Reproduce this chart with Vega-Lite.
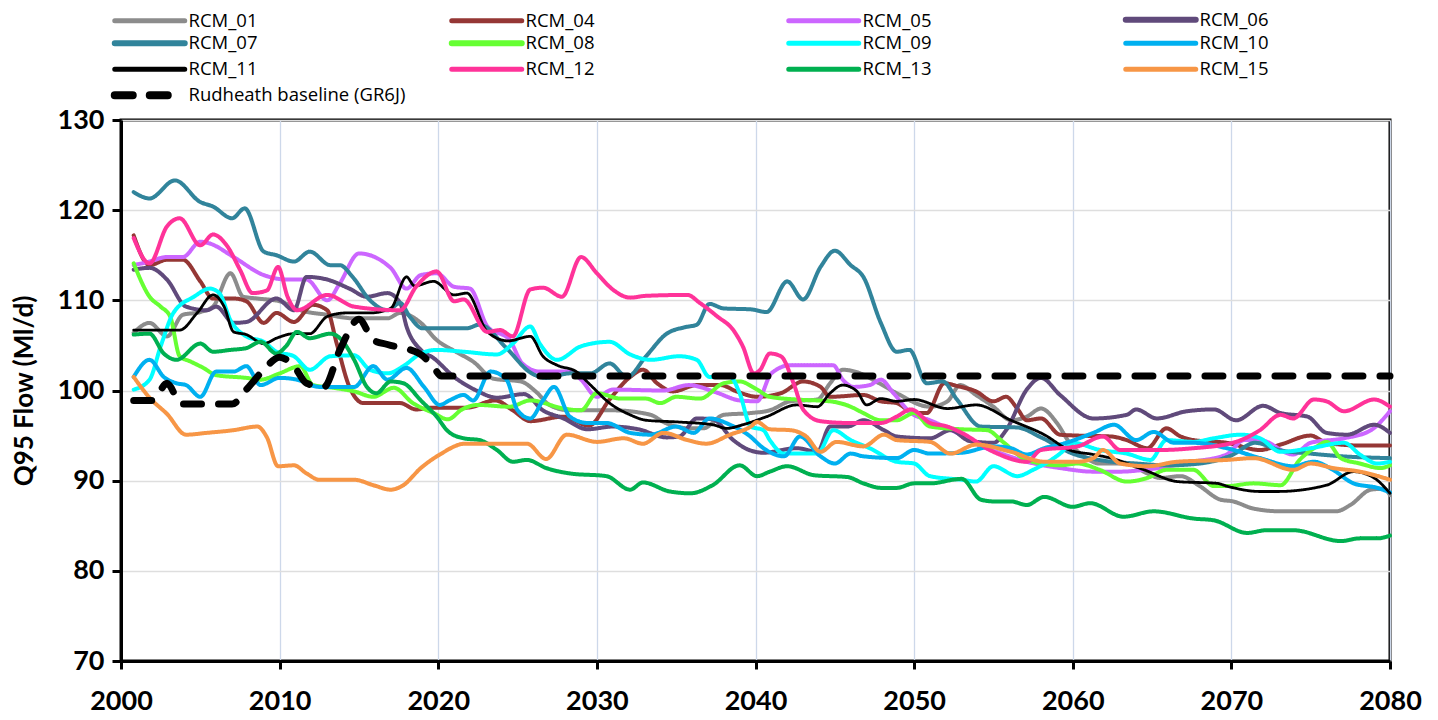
{
"$schema":"https://vega.github.io/schema/vega-lite/v6.json",
"autosize":{"type":"none"},
"width":1269,"height":541,
"padding":{"left":121,"top":120,"right":48,"bottom":59},
"background":"white",
"config":{
 "font":"Lato",
 "view":{"stroke":"black","strokeWidth":3},
 "legend":{"orient":"none","legendX":19.5,"legendY":-112,"direction":"horizontal","columns":4,"gridAlign":"all","symbolType":"stroke","symbolSize":4900,"symbolStrokeWidth":5,"labelFont":"Open Sans","labelFontSize":18.5,"labelColor":"black","labelOffset":29.5,"rowPadding":-7,"columnPadding":34,"padding":0,"labelLimit":400}
},
"data":{"values":[
{"s":"RCM_01","x":2000.8,"y":106.4},{"s":"RCM_01","x":2001.8,"y":107.5},{"s":"RCM_01","x":2002.9,"y":106.0},{"s":"RCM_01","x":2003.9,"y":108.4},{"s":"RCM_01","x":2005.0,"y":108.7},{"s":"RCM_01","x":2005.8,"y":109.3},{"s":"RCM_01","x":2006.9,"y":113.0},{"s":"RCM_01","x":2007.7,"y":110.4},{"s":"RCM_01","x":2008.6,"y":110.2},{"s":"RCM_01","x":2010.0,"y":109.9},{"s":"RCM_01","x":2011.3,"y":108.9},{"s":"RCM_01","x":2013.0,"y":108.4},{"s":"RCM_01","x":2014.7,"y":108.0},{"s":"RCM_01","x":2016.8,"y":108.0},{"s":"RCM_01","x":2017.6,"y":108.6},{"s":"RCM_01","x":2018.9,"y":107.5},{"s":"RCM_01","x":2019.9,"y":105.6},{"s":"RCM_01","x":2021.0,"y":104.4},{"s":"RCM_01","x":2022.2,"y":103.2},{"s":"RCM_01","x":2023.5,"y":101.3},{"s":"RCM_01","x":2025.2,"y":101.0},{"s":"RCM_01","x":2026.2,"y":99.8},{"s":"RCM_01","x":2027.0,"y":98.4},{"s":"RCM_01","x":2028.3,"y":97.8},{"s":"RCM_01","x":2031.0,"y":97.8},{"s":"RCM_01","x":2033.4,"y":97.3},{"s":"RCM_01","x":2034.2,"y":96.5},{"s":"RCM_01","x":2035.9,"y":95.8},{"s":"RCM_01","x":2036.7,"y":95.8},{"s":"RCM_01","x":2038.0,"y":97.3},{"s":"RCM_01","x":2039.7,"y":97.5},{"s":"RCM_01","x":2040.9,"y":97.8},{"s":"RCM_01","x":2042.2,"y":98.8},{"s":"RCM_01","x":2043.9,"y":99.0},{"s":"RCM_01","x":2044.7,"y":100.8},{"s":"RCM_01","x":2045.5,"y":102.3},{"s":"RCM_01","x":2046.6,"y":101.9},{"s":"RCM_01","x":2047.8,"y":100.8},{"s":"RCM_01","x":2048.9,"y":99.7},{"s":"RCM_01","x":2051.0,"y":98.2},{"s":"RCM_01","x":2052.1,"y":98.8},{"s":"RCM_01","x":2052.9,"y":100.6},{"s":"RCM_01","x":2053.9,"y":99.5},{"s":"RCM_01","x":2055.0,"y":98.2},{"s":"RCM_01","x":2056.1,"y":96.7},{"s":"RCM_01","x":2057.1,"y":97.1},{"s":"RCM_01","x":2058.0,"y":98.0},{"s":"RCM_01","x":2059.0,"y":96.4},{"s":"RCM_01","x":2059.8,"y":94.2},{"s":"RCM_01","x":2060.7,"y":92.7},{"s":"RCM_01","x":2061.7,"y":91.9},{"s":"RCM_01","x":2063.4,"y":91.9},{"s":"RCM_01","x":2064.7,"y":90.8},{"s":"RCM_01","x":2065.5,"y":90.3},{"s":"RCM_01","x":2066.8,"y":90.5},{"s":"RCM_01","x":2068.0,"y":89.4},{"s":"RCM_01","x":2069.3,"y":87.9},{"s":"RCM_01","x":2070.1,"y":87.7},{"s":"RCM_01","x":2071.4,"y":86.9},{"s":"RCM_01","x":2073.1,"y":86.6},{"s":"RCM_01","x":2076.6,"y":86.6},{"s":"RCM_01","x":2077.5,"y":87.3},{"s":"RCM_01","x":2078.8,"y":89.0},{"s":"RCM_01","x":2079.6,"y":89.1},{"s":"RCM_01","x":2080.0,"y":88.4},
{"s":"RCM_04","x":2000.8,"y":117.2},{"s":"RCM_04","x":2001.8,"y":113.9},{"s":"RCM_04","x":2002.9,"y":114.5},{"s":"RCM_04","x":2003.9,"y":114.5},{"s":"RCM_04","x":2005.0,"y":112.1},{"s":"RCM_04","x":2005.8,"y":110.2},{"s":"RCM_04","x":2007.1,"y":110.2},{"s":"RCM_04","x":2007.9,"y":109.9},{"s":"RCM_04","x":2009.0,"y":107.5},{"s":"RCM_04","x":2009.8,"y":108.6},{"s":"RCM_04","x":2010.9,"y":107.6},{"s":"RCM_04","x":2012.1,"y":109.5},{"s":"RCM_04","x":2013.0,"y":108.9},{"s":"RCM_04","x":2013.6,"y":105.2},{"s":"RCM_04","x":2014.4,"y":100.4},{"s":"RCM_04","x":2015.3,"y":98.6},{"s":"RCM_04","x":2017.6,"y":98.6},{"s":"RCM_04","x":2018.6,"y":97.9},{"s":"RCM_04","x":2019.7,"y":98.1},{"s":"RCM_04","x":2021.8,"y":98.1},{"s":"RCM_04","x":2023.6,"y":98.9},{"s":"RCM_04","x":2024.7,"y":97.8},{"s":"RCM_04","x":2025.8,"y":96.6},{"s":"RCM_04","x":2027.9,"y":97.1},{"s":"RCM_04","x":2029.5,"y":96.1},{"s":"RCM_04","x":2030.8,"y":99.0},{"s":"RCM_04","x":2032.1,"y":101.5},{"s":"RCM_04","x":2032.9,"y":102.3},{"s":"RCM_04","x":2033.8,"y":100.8},{"s":"RCM_04","x":2034.8,"y":99.9},{"s":"RCM_04","x":2036.3,"y":100.6},{"s":"RCM_04","x":2037.8,"y":100.6},{"s":"RCM_04","x":2038.8,"y":99.9},{"s":"RCM_04","x":2040.1,"y":99.3},{"s":"RCM_04","x":2041.6,"y":99.7},{"s":"RCM_04","x":2043.0,"y":101.0},{"s":"RCM_04","x":2044.1,"y":100.4},{"s":"RCM_04","x":2044.7,"y":99.3},{"s":"RCM_04","x":2046.8,"y":99.5},{"s":"RCM_04","x":2047.9,"y":98.8},{"s":"RCM_04","x":2048.9,"y":98.6},{"s":"RCM_04","x":2050.0,"y":97.5},{"s":"RCM_04","x":2050.8,"y":97.5},{"s":"RCM_04","x":2051.9,"y":100.8},{"s":"RCM_04","x":2052.7,"y":100.5},{"s":"RCM_04","x":2053.9,"y":99.9},{"s":"RCM_04","x":2055.0,"y":98.8},{"s":"RCM_04","x":2055.8,"y":99.3},{"s":"RCM_04","x":2056.5,"y":98.0},{"s":"RCM_04","x":2057.1,"y":96.7},{"s":"RCM_04","x":2058.0,"y":96.9},{"s":"RCM_04","x":2059.2,"y":95.1},{"s":"RCM_04","x":2060.3,"y":95.0},{"s":"RCM_04","x":2062.4,"y":94.9},{"s":"RCM_04","x":2063.4,"y":94.5},{"s":"RCM_04","x":2064.7,"y":93.6},{"s":"RCM_04","x":2065.9,"y":95.8},{"s":"RCM_04","x":2066.8,"y":94.9},{"s":"RCM_04","x":2067.6,"y":94.5},{"s":"RCM_04","x":2069.7,"y":94.2},{"s":"RCM_04","x":2071.8,"y":93.4},{"s":"RCM_04","x":2073.1,"y":94.0},{"s":"RCM_04","x":2075.0,"y":95.0},{"s":"RCM_04","x":2076.0,"y":94.2},{"s":"RCM_04","x":2078.1,"y":93.9},{"s":"RCM_04","x":2080.0,"y":93.9},
{"s":"RCM_05","x":2000.8,"y":113.9},{"s":"RCM_05","x":2001.8,"y":114.3},{"s":"RCM_05","x":2002.9,"y":114.8},{"s":"RCM_05","x":2003.9,"y":114.8},{"s":"RCM_05","x":2005.0,"y":116.5},{"s":"RCM_05","x":2005.6,"y":116.3},{"s":"RCM_05","x":2007.1,"y":114.8},{"s":"RCM_05","x":2009.0,"y":112.8},{"s":"RCM_05","x":2010.5,"y":112.3},{"s":"RCM_05","x":2011.7,"y":112.3},{"s":"RCM_05","x":2013.0,"y":110.0},{"s":"RCM_05","x":2013.8,"y":111.9},{"s":"RCM_05","x":2015.0,"y":115.2},{"s":"RCM_05","x":2017.0,"y":113.6},{"s":"RCM_05","x":2018.0,"y":111.3},{"s":"RCM_05","x":2018.9,"y":112.8},{"s":"RCM_05","x":2019.9,"y":113.0},{"s":"RCM_05","x":2021.0,"y":111.5},{"s":"RCM_05","x":2022.0,"y":111.3},{"s":"RCM_05","x":2023.1,"y":107.1},{"s":"RCM_05","x":2024.5,"y":105.6},{"s":"RCM_05","x":2025.3,"y":103.0},{"s":"RCM_05","x":2026.4,"y":102.1},{"s":"RCM_05","x":2028.3,"y":102.1},{"s":"RCM_05","x":2029.0,"y":101.2},{"s":"RCM_05","x":2030.0,"y":99.3},{"s":"RCM_05","x":2031.0,"y":100.1},{"s":"RCM_05","x":2034.2,"y":100.0},{"s":"RCM_05","x":2035.8,"y":100.6},{"s":"RCM_05","x":2037.5,"y":99.8},{"s":"RCM_05","x":2039.0,"y":98.9},{"s":"RCM_05","x":2040.1,"y":98.8},{"s":"RCM_05","x":2041.0,"y":101.9},{"s":"RCM_05","x":2042.2,"y":102.8},{"s":"RCM_05","x":2044.9,"y":102.8},{"s":"RCM_05","x":2045.5,"y":101.2},{"s":"RCM_05","x":2046.2,"y":100.4},{"s":"RCM_05","x":2047.2,"y":100.6},{"s":"RCM_05","x":2047.9,"y":101.2},{"s":"RCM_05","x":2048.7,"y":99.7},{"s":"RCM_05","x":2049.8,"y":97.5},{"s":"RCM_05","x":2051.0,"y":96.7},{"s":"RCM_05","x":2052.7,"y":95.3},{"s":"RCM_05","x":2054.0,"y":94.0},{"s":"RCM_05","x":2055.5,"y":93.0},{"s":"RCM_05","x":2057.1,"y":92.1},{"s":"RCM_05","x":2059.2,"y":91.4},{"s":"RCM_05","x":2061.3,"y":91.0},{"s":"RCM_05","x":2063.0,"y":91.0},{"s":"RCM_05","x":2064.5,"y":91.2},{"s":"RCM_05","x":2067.6,"y":92.1},{"s":"RCM_05","x":2069.7,"y":92.9},{"s":"RCM_05","x":2070.8,"y":94.5},{"s":"RCM_05","x":2071.8,"y":94.5},{"s":"RCM_05","x":2073.9,"y":92.9},{"s":"RCM_05","x":2075.0,"y":94.2},{"s":"RCM_05","x":2077.1,"y":94.7},{"s":"RCM_05","x":2078.8,"y":95.6},{"s":"RCM_05","x":2080.0,"y":97.7},
{"s":"RCM_06","x":2000.8,"y":113.4},{"s":"RCM_06","x":2001.8,"y":113.6},{"s":"RCM_06","x":2002.9,"y":112.3},{"s":"RCM_06","x":2004.1,"y":109.3},{"s":"RCM_06","x":2005.4,"y":108.9},{"s":"RCM_06","x":2006.0,"y":109.3},{"s":"RCM_06","x":2007.1,"y":107.5},{"s":"RCM_06","x":2007.9,"y":107.6},{"s":"RCM_06","x":2009.8,"y":110.2},{"s":"RCM_06","x":2010.9,"y":108.9},{"s":"RCM_06","x":2011.7,"y":112.6},{"s":"RCM_06","x":2013.0,"y":112.3},{"s":"RCM_06","x":2014.4,"y":111.3},{"s":"RCM_06","x":2015.5,"y":110.4},{"s":"RCM_06","x":2016.8,"y":110.8},{"s":"RCM_06","x":2017.6,"y":109.7},{"s":"RCM_06","x":2018.0,"y":107.1},{"s":"RCM_06","x":2018.9,"y":104.5},{"s":"RCM_06","x":2019.7,"y":103.6},{"s":"RCM_06","x":2021.0,"y":101.5},{"s":"RCM_06","x":2022.4,"y":100.0},{"s":"RCM_06","x":2023.7,"y":99.2},{"s":"RCM_06","x":2025.4,"y":99.6},{"s":"RCM_06","x":2026.6,"y":97.8},{"s":"RCM_06","x":2027.9,"y":96.9},{"s":"RCM_06","x":2029.4,"y":95.7},{"s":"RCM_06","x":2031.0,"y":96.0},{"s":"RCM_06","x":2032.6,"y":95.7},{"s":"RCM_06","x":2034.4,"y":94.8},{"s":"RCM_06","x":2035.2,"y":94.9},{"s":"RCM_06","x":2036.3,"y":96.9},{"s":"RCM_06","x":2037.3,"y":96.8},{"s":"RCM_06","x":2038.6,"y":94.5},{"s":"RCM_06","x":2039.6,"y":93.4},{"s":"RCM_06","x":2040.5,"y":93.1},{"s":"RCM_06","x":2042.6,"y":93.6},{"s":"RCM_06","x":2043.9,"y":93.2},{"s":"RCM_06","x":2044.7,"y":96.0},{"s":"RCM_06","x":2045.8,"y":96.0},{"s":"RCM_06","x":2046.8,"y":96.7},{"s":"RCM_06","x":2048.1,"y":95.6},{"s":"RCM_06","x":2048.9,"y":94.9},{"s":"RCM_06","x":2051.0,"y":94.7},{"s":"RCM_06","x":2052.3,"y":95.6},{"s":"RCM_06","x":2053.5,"y":94.4},{"s":"RCM_06","x":2055.0,"y":94.2},{"s":"RCM_06","x":2055.8,"y":95.6},{"s":"RCM_06","x":2057.1,"y":100.1},{"s":"RCM_06","x":2058.0,"y":101.4},{"s":"RCM_06","x":2059.2,"y":99.5},{"s":"RCM_06","x":2061.3,"y":96.9},{"s":"RCM_06","x":2063.4,"y":97.3},{"s":"RCM_06","x":2064.0,"y":97.9},{"s":"RCM_06","x":2065.3,"y":96.9},{"s":"RCM_06","x":2067.2,"y":97.7},{"s":"RCM_06","x":2068.9,"y":97.9},{"s":"RCM_06","x":2070.3,"y":96.7},{"s":"RCM_06","x":2072.0,"y":98.3},{"s":"RCM_06","x":2073.1,"y":97.5},{"s":"RCM_06","x":2074.8,"y":97.1},{"s":"RCM_06","x":2076.0,"y":95.3},{"s":"RCM_06","x":2077.3,"y":95.1},{"s":"RCM_06","x":2079.0,"y":96.2},{"s":"RCM_06","x":2080.0,"y":95.3},
{"s":"RCM_07","x":2000.8,"y":122.0},{"s":"RCM_07","x":2001.8,"y":121.3},{"s":"RCM_07","x":2003.4,"y":123.3},{"s":"RCM_07","x":2005.0,"y":120.9},{"s":"RCM_07","x":2005.8,"y":120.4},{"s":"RCM_07","x":2007.0,"y":119.1},{"s":"RCM_07","x":2007.8,"y":120.2},{"s":"RCM_07","x":2009.0,"y":115.4},{"s":"RCM_07","x":2009.8,"y":115.0},{"s":"RCM_07","x":2010.9,"y":114.3},{"s":"RCM_07","x":2011.9,"y":115.4},{"s":"RCM_07","x":2013.2,"y":113.9},{"s":"RCM_07","x":2013.8,"y":113.9},{"s":"RCM_07","x":2014.6,"y":112.6},{"s":"RCM_07","x":2015.7,"y":110.0},{"s":"RCM_07","x":2016.8,"y":108.9},{"s":"RCM_07","x":2017.6,"y":109.7},{"s":"RCM_07","x":2018.2,"y":108.2},{"s":"RCM_07","x":2019.0,"y":106.9},{"s":"RCM_07","x":2021.8,"y":106.9},{"s":"RCM_07","x":2022.6,"y":107.3},{"s":"RCM_07","x":2024.3,"y":104.7},{"s":"RCM_07","x":2025.8,"y":102.0},{"s":"RCM_07","x":2026.8,"y":101.4},{"s":"RCM_07","x":2028.3,"y":101.9},{"s":"RCM_07","x":2029.6,"y":101.9},{"s":"RCM_07","x":2030.8,"y":103.0},{"s":"RCM_07","x":2031.9,"y":101.5},{"s":"RCM_07","x":2033.1,"y":103.8},{"s":"RCM_07","x":2034.4,"y":106.3},{"s":"RCM_07","x":2035.5,"y":107.0},{"s":"RCM_07","x":2036.3,"y":107.3},{"s":"RCM_07","x":2037.1,"y":109.6},{"s":"RCM_07","x":2038.0,"y":109.1},{"s":"RCM_07","x":2039.7,"y":109.0},{"s":"RCM_07","x":2040.7,"y":108.7},{"s":"RCM_07","x":2042.0,"y":112.1},{"s":"RCM_07","x":2043.0,"y":110.1},{"s":"RCM_07","x":2044.1,"y":113.7},{"s":"RCM_07","x":2045.0,"y":115.5},{"s":"RCM_07","x":2046.0,"y":113.9},{"s":"RCM_07","x":2046.8,"y":112.6},{"s":"RCM_07","x":2047.9,"y":107.5},{"s":"RCM_07","x":2048.9,"y":104.3},{"s":"RCM_07","x":2049.7,"y":104.5},{"s":"RCM_07","x":2050.8,"y":100.8},{"s":"RCM_07","x":2051.8,"y":101.0},{"s":"RCM_07","x":2052.7,"y":99.0},{"s":"RCM_07","x":2054.2,"y":96.0},{"s":"RCM_07","x":2056.5,"y":95.9},{"s":"RCM_07","x":2058.0,"y":94.8},{"s":"RCM_07","x":2060.0,"y":93.0},{"s":"RCM_07","x":2062.0,"y":92.2},{"s":"RCM_07","x":2064.0,"y":91.9},{"s":"RCM_07","x":2066.0,"y":91.7},{"s":"RCM_07","x":2068.0,"y":91.9},{"s":"RCM_07","x":2070.0,"y":92.8},{"s":"RCM_07","x":2071.5,"y":94.2},{"s":"RCM_07","x":2073.0,"y":93.4},{"s":"RCM_07","x":2075.0,"y":93.0},{"s":"RCM_07","x":2077.0,"y":92.7},{"s":"RCM_07","x":2080.0,"y":92.5},
{"s":"RCM_08","x":2000.8,"y":114.1},{"s":"RCM_08","x":2001.8,"y":110.4},{"s":"RCM_08","x":2002.5,"y":109.3},{"s":"RCM_08","x":2003.1,"y":108.2},{"s":"RCM_08","x":2003.7,"y":103.8},{"s":"RCM_08","x":2004.4,"y":103.2},{"s":"RCM_08","x":2005.2,"y":102.5},{"s":"RCM_08","x":2006.0,"y":101.7},{"s":"RCM_08","x":2007.9,"y":101.4},{"s":"RCM_08","x":2008.8,"y":101.2},{"s":"RCM_08","x":2010.0,"y":101.9},{"s":"RCM_08","x":2011.3,"y":102.7},{"s":"RCM_08","x":2012.1,"y":100.6},{"s":"RCM_08","x":2013.4,"y":100.3},{"s":"RCM_08","x":2014.7,"y":99.9},{"s":"RCM_08","x":2015.9,"y":99.3},{"s":"RCM_08","x":2017.2,"y":100.3},{"s":"RCM_08","x":2018.4,"y":98.6},{"s":"RCM_08","x":2019.7,"y":97.5},{"s":"RCM_08","x":2020.6,"y":96.8},{"s":"RCM_08","x":2021.5,"y":97.9},{"s":"RCM_08","x":2022.5,"y":98.4},{"s":"RCM_08","x":2024.5,"y":98.2},{"s":"RCM_08","x":2025.8,"y":98.9},{"s":"RCM_08","x":2027.9,"y":98.0},{"s":"RCM_08","x":2029.0,"y":97.8},{"s":"RCM_08","x":2030.0,"y":99.7},{"s":"RCM_08","x":2031.5,"y":99.1},{"s":"RCM_08","x":2033.1,"y":99.1},{"s":"RCM_08","x":2034.0,"y":98.6},{"s":"RCM_08","x":2035.0,"y":99.3},{"s":"RCM_08","x":2036.5,"y":99.1},{"s":"RCM_08","x":2038.0,"y":100.8},{"s":"RCM_08","x":2039.0,"y":101.0},{"s":"RCM_08","x":2040.1,"y":100.1},{"s":"RCM_08","x":2040.9,"y":99.3},{"s":"RCM_08","x":2042.6,"y":99.0},{"s":"RCM_08","x":2044.7,"y":98.8},{"s":"RCM_08","x":2046.0,"y":98.2},{"s":"RCM_08","x":2046.8,"y":97.5},{"s":"RCM_08","x":2047.9,"y":96.7},{"s":"RCM_08","x":2048.9,"y":96.7},{"s":"RCM_08","x":2050.0,"y":97.5},{"s":"RCM_08","x":2051.0,"y":96.0},{"s":"RCM_08","x":2053.0,"y":95.7},{"s":"RCM_08","x":2054.6,"y":95.6},{"s":"RCM_08","x":2055.6,"y":94.3},{"s":"RCM_08","x":2057.1,"y":92.3},{"s":"RCM_08","x":2059.2,"y":91.7},{"s":"RCM_08","x":2060.3,"y":91.9},{"s":"RCM_08","x":2061.7,"y":91.2},{"s":"RCM_08","x":2063.4,"y":89.9},{"s":"RCM_08","x":2064.7,"y":90.3},{"s":"RCM_08","x":2065.9,"y":91.2},{"s":"RCM_08","x":2067.6,"y":91.2},{"s":"RCM_08","x":2068.9,"y":89.4},{"s":"RCM_08","x":2069.7,"y":89.4},{"s":"RCM_08","x":2071.4,"y":89.7},{"s":"RCM_08","x":2073.1,"y":89.5},{"s":"RCM_08","x":2074.3,"y":92.3},{"s":"RCM_08","x":2075.4,"y":93.8},{"s":"RCM_08","x":2076.0,"y":94.3},{"s":"RCM_08","x":2076.9,"y":92.5},{"s":"RCM_08","x":2078.1,"y":91.9},{"s":"RCM_08","x":2079.4,"y":91.4},{"s":"RCM_08","x":2080.0,"y":91.7},
{"s":"RCM_09","x":2000.8,"y":100.1},{"s":"RCM_09","x":2001.8,"y":101.2},{"s":"RCM_09","x":2002.5,"y":104.9},{"s":"RCM_09","x":2003.3,"y":108.6},{"s":"RCM_09","x":2004.6,"y":110.4},{"s":"RCM_09","x":2005.6,"y":111.3},{"s":"RCM_09","x":2006.2,"y":110.8},{"s":"RCM_09","x":2006.9,"y":107.8},{"s":"RCM_09","x":2007.9,"y":106.0},{"s":"RCM_09","x":2009.0,"y":105.4},{"s":"RCM_09","x":2009.8,"y":104.3},{"s":"RCM_09","x":2010.9,"y":103.8},{"s":"RCM_09","x":2011.9,"y":102.3},{"s":"RCM_09","x":2013.2,"y":103.8},{"s":"RCM_09","x":2014.7,"y":103.9},{"s":"RCM_09","x":2015.7,"y":102.3},{"s":"RCM_09","x":2016.8,"y":101.9},{"s":"RCM_09","x":2017.8,"y":102.7},{"s":"RCM_09","x":2018.9,"y":104.1},{"s":"RCM_09","x":2019.9,"y":104.5},{"s":"RCM_09","x":2021.6,"y":104.3},{"s":"RCM_09","x":2023.7,"y":104.0},{"s":"RCM_09","x":2024.7,"y":105.2},{"s":"RCM_09","x":2025.8,"y":107.1},{"s":"RCM_09","x":2026.4,"y":105.2},{"s":"RCM_09","x":2027.5,"y":103.4},{"s":"RCM_09","x":2029.0,"y":104.9},{"s":"RCM_09","x":2030.8,"y":105.4},{"s":"RCM_09","x":2032.1,"y":104.0},{"s":"RCM_09","x":2033.4,"y":103.4},{"s":"RCM_09","x":2035.2,"y":103.8},{"s":"RCM_09","x":2036.3,"y":103.4},{"s":"RCM_09","x":2037.1,"y":101.5},{"s":"RCM_09","x":2038.4,"y":101.5},{"s":"RCM_09","x":2039.0,"y":99.7},{"s":"RCM_09","x":2039.7,"y":96.0},{"s":"RCM_09","x":2040.5,"y":95.6},{"s":"RCM_09","x":2040.9,"y":94.5},{"s":"RCM_09","x":2041.8,"y":93.0},{"s":"RCM_09","x":2043.9,"y":93.0},{"s":"RCM_09","x":2044.9,"y":95.6},{"s":"RCM_09","x":2046.0,"y":94.5},{"s":"RCM_09","x":2047.2,"y":93.6},{"s":"RCM_09","x":2048.9,"y":92.1},{"s":"RCM_09","x":2050.0,"y":91.9},{"s":"RCM_09","x":2051.0,"y":90.5},{"s":"RCM_09","x":2053.0,"y":90.1},{"s":"RCM_09","x":2053.9,"y":89.9},{"s":"RCM_09","x":2055.0,"y":91.6},{"s":"RCM_09","x":2056.5,"y":90.5},{"s":"RCM_09","x":2057.5,"y":91.2},{"s":"RCM_09","x":2059.2,"y":93.0},{"s":"RCM_09","x":2060.0,"y":94.2},{"s":"RCM_09","x":2061.7,"y":93.4},{"s":"RCM_09","x":2063.4,"y":93.0},{"s":"RCM_09","x":2064.9,"y":92.3},{"s":"RCM_09","x":2065.9,"y":94.5},{"s":"RCM_09","x":2067.6,"y":94.3},{"s":"RCM_09","x":2068.9,"y":94.7},{"s":"RCM_09","x":2070.6,"y":95.1},{"s":"RCM_09","x":2071.8,"y":94.7},{"s":"RCM_09","x":2073.1,"y":93.2},{"s":"RCM_09","x":2075.0,"y":93.6},{"s":"RCM_09","x":2077.1,"y":94.2},{"s":"RCM_09","x":2078.1,"y":92.9},{"s":"RCM_09","x":2079.2,"y":91.9},{"s":"RCM_09","x":2080.0,"y":92.1},
{"s":"RCM_10","x":2000.8,"y":101.5},{"s":"RCM_10","x":2001.8,"y":103.4},{"s":"RCM_10","x":2002.7,"y":101.5},{"s":"RCM_10","x":2003.5,"y":100.8},{"s":"RCM_10","x":2004.1,"y":100.6},{"s":"RCM_10","x":2005.0,"y":99.3},{"s":"RCM_10","x":2006.0,"y":102.1},{"s":"RCM_10","x":2007.1,"y":102.1},{"s":"RCM_10","x":2007.9,"y":102.7},{"s":"RCM_10","x":2008.8,"y":100.6},{"s":"RCM_10","x":2010.0,"y":101.4},{"s":"RCM_10","x":2011.1,"y":101.2},{"s":"RCM_10","x":2012.5,"y":100.4},{"s":"RCM_10","x":2014.7,"y":100.4},{"s":"RCM_10","x":2015.9,"y":102.7},{"s":"RCM_10","x":2016.8,"y":101.2},{"s":"RCM_10","x":2018.0,"y":102.5},{"s":"RCM_10","x":2019.1,"y":100.4},{"s":"RCM_10","x":2020.1,"y":98.4},{"s":"RCM_10","x":2020.7,"y":98.9},{"s":"RCM_10","x":2021.6,"y":99.5},{"s":"RCM_10","x":2022.2,"y":98.9},{"s":"RCM_10","x":2023.3,"y":102.1},{"s":"RCM_10","x":2024.3,"y":101.2},{"s":"RCM_10","x":2025.0,"y":97.8},{"s":"RCM_10","x":2025.8,"y":96.9},{"s":"RCM_10","x":2026.6,"y":98.9},{"s":"RCM_10","x":2027.3,"y":100.4},{"s":"RCM_10","x":2028.3,"y":97.1},{"s":"RCM_10","x":2029.4,"y":96.4},{"s":"RCM_10","x":2030.6,"y":96.4},{"s":"RCM_10","x":2032.1,"y":95.3},{"s":"RCM_10","x":2033.4,"y":95.1},{"s":"RCM_10","x":2035.0,"y":96.0},{"s":"RCM_10","x":2036.1,"y":95.3},{"s":"RCM_10","x":2037.1,"y":96.9},{"s":"RCM_10","x":2038.4,"y":96.2},{"s":"RCM_10","x":2039.6,"y":95.0},{"s":"RCM_10","x":2040.5,"y":93.6},{"s":"RCM_10","x":2041.8,"y":92.7},{"s":"RCM_10","x":2042.8,"y":94.9},{"s":"RCM_10","x":2044.1,"y":92.7},{"s":"RCM_10","x":2045.0,"y":91.9},{"s":"RCM_10","x":2046.0,"y":93.0},{"s":"RCM_10","x":2046.8,"y":92.7},{"s":"RCM_10","x":2048.9,"y":92.5},{"s":"RCM_10","x":2050.0,"y":93.4},{"s":"RCM_10","x":2051.0,"y":93.0},{"s":"RCM_10","x":2053.0,"y":93.1},{"s":"RCM_10","x":2055.0,"y":93.8},{"s":"RCM_10","x":2056.1,"y":93.6},{"s":"RCM_10","x":2057.1,"y":92.9},{"s":"RCM_10","x":2058.2,"y":93.6},{"s":"RCM_10","x":2059.2,"y":94.0},{"s":"RCM_10","x":2061.3,"y":95.3},{"s":"RCM_10","x":2062.6,"y":96.2},{"s":"RCM_10","x":2064.0,"y":94.5},{"s":"RCM_10","x":2065.1,"y":95.4},{"s":"RCM_10","x":2066.4,"y":94.2},{"s":"RCM_10","x":2067.6,"y":94.2},{"s":"RCM_10","x":2069.7,"y":93.6},{"s":"RCM_10","x":2071.8,"y":92.5},{"s":"RCM_10","x":2073.9,"y":91.6},{"s":"RCM_10","x":2075.2,"y":92.1},{"s":"RCM_10","x":2076.4,"y":91.2},{"s":"RCM_10","x":2077.7,"y":89.7},{"s":"RCM_10","x":2079.2,"y":89.2},{"s":"RCM_10","x":2080.0,"y":88.7},
{"s":"RCM_11","x":2000.8,"y":106.7},{"s":"RCM_11","x":2003.7,"y":106.7},{"s":"RCM_11","x":2004.8,"y":108.6},{"s":"RCM_11","x":2005.8,"y":110.6},{"s":"RCM_11","x":2006.5,"y":109.3},{"s":"RCM_11","x":2007.1,"y":106.5},{"s":"RCM_11","x":2007.9,"y":106.2},{"s":"RCM_11","x":2009.0,"y":105.2},{"s":"RCM_11","x":2009.8,"y":105.8},{"s":"RCM_11","x":2010.9,"y":106.3},{"s":"RCM_11","x":2011.9,"y":106.3},{"s":"RCM_11","x":2013.0,"y":108.2},{"s":"RCM_11","x":2014.2,"y":108.6},{"s":"RCM_11","x":2015.7,"y":108.6},{"s":"RCM_11","x":2017.0,"y":109.1},{"s":"RCM_11","x":2018.0,"y":112.6},{"s":"RCM_11","x":2018.5,"y":111.6},{"s":"RCM_11","x":2019.7,"y":112.1},{"s":"RCM_11","x":2021.0,"y":110.6},{"s":"RCM_11","x":2021.8,"y":110.8},{"s":"RCM_11","x":2023.1,"y":106.5},{"s":"RCM_11","x":2024.4,"y":105.5},{"s":"RCM_11","x":2025.8,"y":106.0},{"s":"RCM_11","x":2026.6,"y":103.8},{"s":"RCM_11","x":2027.5,"y":102.8},{"s":"RCM_11","x":2028.7,"y":102.1},{"s":"RCM_11","x":2029.6,"y":100.6},{"s":"RCM_11","x":2030.8,"y":98.6},{"s":"RCM_11","x":2032.1,"y":97.3},{"s":"RCM_11","x":2033.1,"y":96.7},{"s":"RCM_11","x":2035.2,"y":96.5},{"s":"RCM_11","x":2037.3,"y":96.2},{"s":"RCM_11","x":2038.2,"y":95.8},{"s":"RCM_11","x":2039.2,"y":96.2},{"s":"RCM_11","x":2040.7,"y":97.1},{"s":"RCM_11","x":2042.6,"y":98.4},{"s":"RCM_11","x":2043.9,"y":98.2},{"s":"RCM_11","x":2044.7,"y":99.7},{"s":"RCM_11","x":2045.5,"y":100.6},{"s":"RCM_11","x":2046.4,"y":99.9},{"s":"RCM_11","x":2047.0,"y":98.4},{"s":"RCM_11","x":2047.9,"y":99.1},{"s":"RCM_11","x":2048.9,"y":98.8},{"s":"RCM_11","x":2050.0,"y":99.0},{"s":"RCM_11","x":2052.1,"y":98.0},{"s":"RCM_11","x":2053.9,"y":98.4},{"s":"RCM_11","x":2056.1,"y":96.7},{"s":"RCM_11","x":2058.2,"y":95.1},{"s":"RCM_11","x":2059.8,"y":93.4},{"s":"RCM_11","x":2061.3,"y":92.9},{"s":"RCM_11","x":2062.4,"y":92.5},{"s":"RCM_11","x":2064.5,"y":91.2},{"s":"RCM_11","x":2066.6,"y":89.9},{"s":"RCM_11","x":2069.1,"y":89.7},{"s":"RCM_11","x":2069.7,"y":89.4},{"s":"RCM_11","x":2071.8,"y":88.8},{"s":"RCM_11","x":2072.9,"y":88.8},{"s":"RCM_11","x":2076.0,"y":89.5},{"s":"RCM_11","x":2077.7,"y":91.0},{"s":"RCM_11","x":2079.0,"y":90.3},{"s":"RCM_11","x":2080.0,"y":88.6},
{"s":"RCM_12","x":2000.8,"y":116.9},{"s":"RCM_12","x":2001.8,"y":114.1},{"s":"RCM_12","x":2002.9,"y":118.2},{"s":"RCM_12","x":2003.7,"y":119.1},{"s":"RCM_12","x":2005.0,"y":116.1},{"s":"RCM_12","x":2005.8,"y":117.3},{"s":"RCM_12","x":2006.7,"y":116.0},{"s":"RCM_12","x":2007.5,"y":113.4},{"s":"RCM_12","x":2008.3,"y":110.8},{"s":"RCM_12","x":2009.2,"y":111.1},{"s":"RCM_12","x":2009.9,"y":113.7},{"s":"RCM_12","x":2010.5,"y":110.4},{"s":"RCM_12","x":2011.1,"y":108.9},{"s":"RCM_12","x":2013.0,"y":110.6},{"s":"RCM_12","x":2014.7,"y":109.3},{"s":"RCM_12","x":2017.6,"y":108.9},{"s":"RCM_12","x":2018.6,"y":111.5},{"s":"RCM_12","x":2019.9,"y":113.2},{"s":"RCM_12","x":2021.0,"y":109.9},{"s":"RCM_12","x":2021.6,"y":110.1},{"s":"RCM_12","x":2023.1,"y":106.5},{"s":"RCM_12","x":2023.9,"y":106.7},{"s":"RCM_12","x":2024.7,"y":106.0},{"s":"RCM_12","x":2025.8,"y":111.2},{"s":"RCM_12","x":2026.6,"y":111.4},{"s":"RCM_12","x":2027.8,"y":110.4},{"s":"RCM_12","x":2029.0,"y":114.8},{"s":"RCM_12","x":2030.0,"y":113.0},{"s":"RCM_12","x":2031.0,"y":111.2},{"s":"RCM_12","x":2032.1,"y":110.3},{"s":"RCM_12","x":2033.1,"y":110.5},{"s":"RCM_12","x":2035.7,"y":110.6},{"s":"RCM_12","x":2036.5,"y":109.7},{"s":"RCM_12","x":2037.6,"y":108.2},{"s":"RCM_12","x":2038.6,"y":106.7},{"s":"RCM_12","x":2039.2,"y":104.9},{"s":"RCM_12","x":2039.9,"y":101.9},{"s":"RCM_12","x":2040.3,"y":102.3},{"s":"RCM_12","x":2040.9,"y":104.1},{"s":"RCM_12","x":2041.6,"y":103.8},{"s":"RCM_12","x":2042.4,"y":100.8},{"s":"RCM_12","x":2043.0,"y":97.9},{"s":"RCM_12","x":2044.1,"y":96.6},{"s":"RCM_12","x":2045.8,"y":96.4},{"s":"RCM_12","x":2047.9,"y":96.4},{"s":"RCM_12","x":2048.9,"y":97.1},{"s":"RCM_12","x":2049.8,"y":97.9},{"s":"RCM_12","x":2051.0,"y":96.4},{"s":"RCM_12","x":2052.1,"y":96.0},{"s":"RCM_12","x":2053.0,"y":95.3},{"s":"RCM_12","x":2055.0,"y":93.2},{"s":"RCM_12","x":2057.1,"y":92.1},{"s":"RCM_12","x":2058.0,"y":93.4},{"s":"RCM_12","x":2060.3,"y":93.8},{"s":"RCM_12","x":2061.9,"y":94.9},{"s":"RCM_12","x":2063.0,"y":93.4},{"s":"RCM_12","x":2065.5,"y":93.4},{"s":"RCM_12","x":2067.6,"y":93.6},{"s":"RCM_12","x":2070.1,"y":94.2},{"s":"RCM_12","x":2071.8,"y":95.6},{"s":"RCM_12","x":2073.1,"y":97.3},{"s":"RCM_12","x":2073.9,"y":96.9},{"s":"RCM_12","x":2075.2,"y":99.0},{"s":"RCM_12","x":2076.0,"y":98.8},{"s":"RCM_12","x":2077.1,"y":97.7},{"s":"RCM_12","x":2079.0,"y":99.0},{"s":"RCM_12","x":2080.0,"y":98.2},
{"s":"RCM_13","x":2000.8,"y":106.2},{"s":"RCM_13","x":2001.8,"y":106.3},{"s":"RCM_13","x":2002.7,"y":104.1},{"s":"RCM_13","x":2003.5,"y":103.4},{"s":"RCM_13","x":2005.0,"y":105.2},{"s":"RCM_13","x":2005.8,"y":104.3},{"s":"RCM_13","x":2006.9,"y":104.5},{"s":"RCM_13","x":2007.9,"y":104.7},{"s":"RCM_13","x":2008.8,"y":105.4},{"s":"RCM_13","x":2009.8,"y":104.1},{"s":"RCM_13","x":2010.4,"y":104.9},{"s":"RCM_13","x":2011.1,"y":106.5},{"s":"RCM_13","x":2011.9,"y":105.8},{"s":"RCM_13","x":2013.2,"y":106.3},{"s":"RCM_13","x":2013.8,"y":105.8},{"s":"RCM_13","x":2014.7,"y":103.4},{"s":"RCM_13","x":2015.5,"y":100.4},{"s":"RCM_13","x":2016.1,"y":99.7},{"s":"RCM_13","x":2017.0,"y":101.0},{"s":"RCM_13","x":2017.8,"y":100.8},{"s":"RCM_13","x":2018.9,"y":98.9},{"s":"RCM_13","x":2019.9,"y":97.1},{"s":"RCM_13","x":2020.6,"y":95.5},{"s":"RCM_13","x":2021.6,"y":94.7},{"s":"RCM_13","x":2022.6,"y":94.5},{"s":"RCM_13","x":2023.7,"y":93.4},{"s":"RCM_13","x":2024.7,"y":92.1},{"s":"RCM_13","x":2025.6,"y":92.3},{"s":"RCM_13","x":2026.8,"y":91.4},{"s":"RCM_13","x":2028.3,"y":90.8},{"s":"RCM_13","x":2030.6,"y":90.5},{"s":"RCM_13","x":2032.1,"y":89.0},{"s":"RCM_13","x":2032.9,"y":89.8},{"s":"RCM_13","x":2034.6,"y":88.8},{"s":"RCM_13","x":2035.9,"y":88.6},{"s":"RCM_13","x":2037.3,"y":89.5},{"s":"RCM_13","x":2039.0,"y":91.7},{"s":"RCM_13","x":2040.1,"y":90.5},{"s":"RCM_13","x":2040.9,"y":91.0},{"s":"RCM_13","x":2042.0,"y":91.6},{"s":"RCM_13","x":2043.7,"y":90.6},{"s":"RCM_13","x":2045.8,"y":90.4},{"s":"RCM_13","x":2046.8,"y":89.7},{"s":"RCM_13","x":2047.9,"y":89.2},{"s":"RCM_13","x":2048.9,"y":89.2},{"s":"RCM_13","x":2050.0,"y":89.7},{"s":"RCM_13","x":2051.0,"y":89.7},{"s":"RCM_13","x":2053.0,"y":90.2},{"s":"RCM_13","x":2054.2,"y":87.9},{"s":"RCM_13","x":2055.0,"y":87.7},{"s":"RCM_13","x":2056.1,"y":87.7},{"s":"RCM_13","x":2057.1,"y":87.3},{"s":"RCM_13","x":2058.2,"y":88.2},{"s":"RCM_13","x":2060.0,"y":87.1},{"s":"RCM_13","x":2061.1,"y":87.5},{"s":"RCM_13","x":2063.2,"y":86.0},{"s":"RCM_13","x":2065.1,"y":86.6},{"s":"RCM_13","x":2067.6,"y":85.8},{"s":"RCM_13","x":2068.9,"y":85.6},{"s":"RCM_13","x":2071.0,"y":84.2},{"s":"RCM_13","x":2072.2,"y":84.5},{"s":"RCM_13","x":2073.9,"y":84.5},{"s":"RCM_13","x":2076.9,"y":83.3},{"s":"RCM_13","x":2078.1,"y":83.6},{"s":"RCM_13","x":2079.2,"y":83.6},{"s":"RCM_13","x":2080.0,"y":83.9},
{"s":"RCM_15","x":2000.8,"y":101.5},{"s":"RCM_15","x":2001.8,"y":99.2},{"s":"RCM_15","x":2002.9,"y":97.4},{"s":"RCM_15","x":2004.1,"y":95.1},{"s":"RCM_15","x":2005.4,"y":95.3},{"s":"RCM_15","x":2007.1,"y":95.6},{"s":"RCM_15","x":2008.6,"y":96.0},{"s":"RCM_15","x":2009.2,"y":94.8},{"s":"RCM_15","x":2009.9,"y":91.6},{"s":"RCM_15","x":2010.9,"y":91.7},{"s":"RCM_15","x":2011.7,"y":90.8},{"s":"RCM_15","x":2012.5,"y":90.1},{"s":"RCM_15","x":2014.7,"y":90.1},{"s":"RCM_15","x":2015.9,"y":89.5},{"s":"RCM_15","x":2017.0,"y":89.0},{"s":"RCM_15","x":2017.8,"y":89.5},{"s":"RCM_15","x":2018.9,"y":91.4},{"s":"RCM_15","x":2020.1,"y":92.9},{"s":"RCM_15","x":2021.7,"y":94.1},{"s":"RCM_15","x":2023.7,"y":94.1},{"s":"RCM_15","x":2025.6,"y":94.1},{"s":"RCM_15","x":2026.8,"y":92.4},{"s":"RCM_15","x":2028.1,"y":95.1},{"s":"RCM_15","x":2030.0,"y":94.3},{"s":"RCM_15","x":2031.7,"y":94.7},{"s":"RCM_15","x":2032.9,"y":94.1},{"s":"RCM_15","x":2034.2,"y":95.3},{"s":"RCM_15","x":2035.7,"y":94.5},{"s":"RCM_15","x":2036.9,"y":94.1},{"s":"RCM_15","x":2038.4,"y":95.1},{"s":"RCM_15","x":2039.7,"y":96.0},{"s":"RCM_15","x":2040.1,"y":96.5},{"s":"RCM_15","x":2040.9,"y":95.7},{"s":"RCM_15","x":2042.2,"y":95.6},{"s":"RCM_15","x":2043.2,"y":94.9},{"s":"RCM_15","x":2044.1,"y":93.2},{"s":"RCM_15","x":2045.1,"y":94.3},{"s":"RCM_15","x":2046.8,"y":93.8},{"s":"RCM_15","x":2048.1,"y":95.1},{"s":"RCM_15","x":2048.9,"y":94.5},{"s":"RCM_15","x":2051.0,"y":94.3},{"s":"RCM_15","x":2052.3,"y":93.0},{"s":"RCM_15","x":2053.9,"y":94.0},{"s":"RCM_15","x":2056.1,"y":93.2},{"s":"RCM_15","x":2058.2,"y":92.1},{"s":"RCM_15","x":2060.3,"y":92.1},{"s":"RCM_15","x":2061.3,"y":92.5},{"s":"RCM_15","x":2061.9,"y":93.4},{"s":"RCM_15","x":2063.0,"y":91.9},{"s":"RCM_15","x":2064.7,"y":91.6},{"s":"RCM_15","x":2066.6,"y":92.1},{"s":"RCM_15","x":2069.7,"y":92.3},{"s":"RCM_15","x":2071.4,"y":92.5},{"s":"RCM_15","x":2073.9,"y":91.2},{"s":"RCM_15","x":2075.0,"y":91.9},{"s":"RCM_15","x":2076.4,"y":91.4},{"s":"RCM_15","x":2078.1,"y":91.0},{"s":"RCM_15","x":2080.0,"y":90.1},
{"s":"Rudheath baseline (GR6J)","x":2000.8,"y":98.9},{"s":"Rudheath baseline (GR6J)","x":2002.0,"y":98.9},{"s":"Rudheath baseline (GR6J)","x":2002.9,"y":100.8},{"s":"Rudheath baseline (GR6J)","x":2003.8,"y":98.5},{"s":"Rudheath baseline (GR6J)","x":2007.0,"y":98.5},{"s":"Rudheath baseline (GR6J)","x":2008.0,"y":100.3},{"s":"Rudheath baseline (GR6J)","x":2009.0,"y":102.3},{"s":"Rudheath baseline (GR6J)","x":2010.0,"y":103.7},{"s":"Rudheath baseline (GR6J)","x":2010.9,"y":102.7},{"s":"Rudheath baseline (GR6J)","x":2011.7,"y":100.8},{"s":"Rudheath baseline (GR6J)","x":2012.8,"y":100.4},{"s":"Rudheath baseline (GR6J)","x":2013.8,"y":104.5},{"s":"Rudheath baseline (GR6J)","x":2015.0,"y":107.9},{"s":"Rudheath baseline (GR6J)","x":2015.9,"y":105.6},{"s":"Rudheath baseline (GR6J)","x":2016.8,"y":105.1},{"s":"Rudheath baseline (GR6J)","x":2018.9,"y":104.0},{"s":"Rudheath baseline (GR6J)","x":2019.7,"y":102.6},{"s":"Rudheath baseline (GR6J)","x":2020.2,"y":101.6},{"s":"Rudheath baseline (GR6J)","x":2080.0,"y":101.6}
]},
"mark":{"type":"line","interpolate":"monotone","strokeCap":"round","strokeJoin":"round"},
"encoding":{
 "x":{"field":"x","type":"quantitative","scale":{"domain":[2000,2080],"nice":false,"zero":false},
  "axis":{"title":null,"values":[2000,2010,2020,2030,2040,2050,2060,2070,2080],"format":"d","labelFont":"Lato","labelFontSize":27,"labelFontWeight":"bold","labelColor":"black","labelFlush":false,"labelOverlap":false,"labelPadding":19,"grid":true,"gridColor":"#cdd8ea","gridWidth":1.3,"domainColor":"black","domainWidth":3,"tickColor":"black","tickWidth":3,"tickSize":8}},
 "y":{"field":"y","type":"quantitative","scale":{"domain":[70,130],"nice":false,"zero":false},
  "axis":{"title":"Q95 Flow (Ml/d)","titleFont":"Lato","titleFontSize":26,"titleFontWeight":"bold","titleColor":"black","titlePadding":20,"values":[70,80,90,100,110,120,130],"labelFont":"Lato","labelFontSize":27,"labelFontWeight":"bold","labelColor":"black","labelFlush":false,"labelOverlap":false,"labelPadding":8,"grid":true,"gridColor":"#dedede","gridWidth":1.5,"domainColor":"black","domainWidth":3,"tickColor":"black","tickWidth":3,"tickSize":9}},
 "color":{"field":"s","type":"nominal",
  "scale":{"domain":["RCM_01","RCM_04","RCM_05","RCM_06","RCM_07","RCM_08","RCM_09","RCM_10","RCM_11","RCM_12","RCM_13","RCM_15","Rudheath baseline (GR6J)"],
   "range":["#8c8c8c","#953735","#cc66ff","#604a7b","#31849b","#66ff33","#00ffff","#00b0f0","#000000","#ff3399","#00b050","#f79646","#000000"]},
  "legend":{"title":null,"encode":{"symbols":{"update":{"strokeCap":{"value":"round"},"strokeDash":{"signal":"datum.value === 'Rudheath baseline (GR6J)' ? [12,19] : [1,0]"},"strokeWidth":{"signal":"datum.value === 'Rudheath baseline (GR6J)' ? 8 : (datum.value === 'RCM_06' || datum.value === 'RCM_07' || datum.value === 'RCM_08' ? 6 : 5)"}}}}}},
 "strokeDash":{"field":"s","type":"nominal",
  "scale":{"domain":["RCM_01","RCM_04","RCM_05","RCM_06","RCM_07","RCM_08","RCM_09","RCM_10","RCM_11","RCM_12","RCM_13","RCM_15","Rudheath baseline (GR6J)"],
   "range":[[1,0],[1,0],[1,0],[1,0],[1,0],[1,0],[1,0],[1,0],[1,0],[1,0],[1,0],[1,0],[18,17]]},
  "legend":{"title":null}},
 "strokeWidth":{"condition":[{"test":"datum.s === 'Rudheath baseline (GR6J)'","value":7},{"test":"datum.s === 'RCM_11'","value":2.8}],"value":4}
}
}
